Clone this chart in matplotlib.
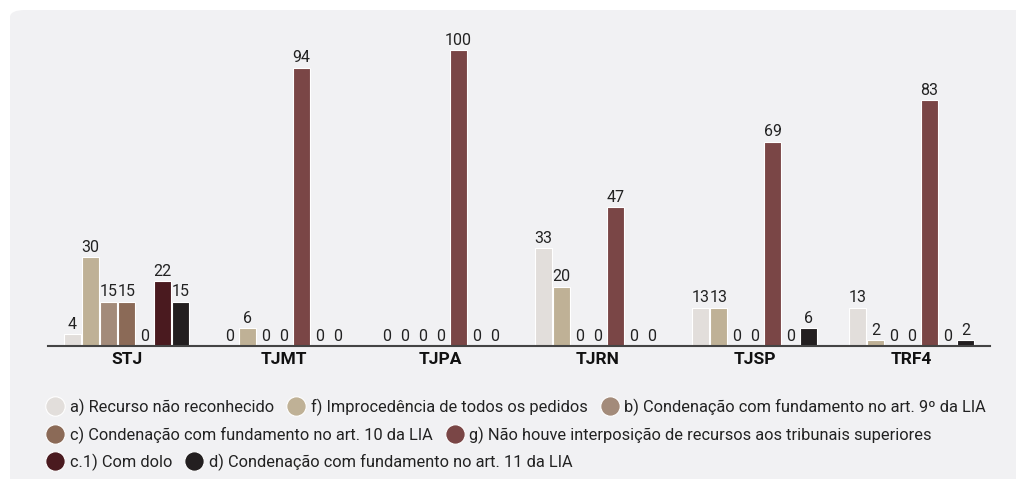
import matplotlib
matplotlib.use("Agg")
import matplotlib.pyplot as plt
from matplotlib.patches import FancyBboxPatch
from matplotlib.lines import Line2D
import numpy as np

categories = ["STJ", "TJMT", "TJPA", "TJRN", "TJSP", "TRF4"]
series_labels = [
    "a) Recurso não reconhecido",
    "f) Improcedência de todos os pedidos",
    "b) Condenação com fundamento no art. 9º da LIA",
    "c) Condenação com fundamento no art. 10 da LIA",
    "g) Não houve interposição de recursos aos tribunais superiores",
    "c.1) Com dolo",
    "d) Condenação com fundamento no art. 11 da LIA",
]
a_vals = [4, 0, 0, 33, 13, 13]
f_vals = [30, 6, 0, 20, 13, 2]
b_vals = [15, 0, 0, 0, 0, 0]
c_vals = [15, 0, 0, 0, 0, 0]
g_vals = [0, 94, 100, 47, 69, 83]
c1_vals = [22, 0, 0, 0, 0, 0]
d_vals = [15, 0, 0, 0, 6, 2]
series_values = [a_vals, f_vals, b_vals, c_vals, g_vals, c1_vals, d_vals]
colors = ["#e2dedb", "#bfb196", "#a38b7a", "#8b6a57", "#7a4646", "#4a1a1f", "#231f20"]

plt.rcParams['font.family'] = ['Roboto', 'DejaVu Sans']

W, H = 1016, 479
fig = plt.figure(figsize=(W / 100, H / 100), dpi=100)
fig.patch.set_facecolor("white")

panel = FancyBboxPatch((10 / W, -0.05), (W + 20) / W, (H - 10) / H + 0.05,
                       boxstyle="round,pad=0,rounding_size=0.015",
                       transform=fig.transFigure, facecolor="#f1f1f3",
                       edgecolor="none", zorder=-10)
fig.patches.append(panel)

ax_left, ax_right = 48 / W, 990 / W
ax_bottom = (H - 346) / H
ax_top = (H - 30) / H
ax = fig.add_axes([ax_left, ax_bottom, ax_right - ax_left, ax_top - ax_bottom])
ax.set_facecolor("none")

x = np.arange(len(categories))
step = 0.1146
width = 0.104
n = len(series_values)
for i, (vals, col) in enumerate(zip(series_values, colors)):
    pos = x + (i - (n - 1) / 2) * step
    ax.bar(pos, vals, width=width, color=col, edgecolor="white", linewidth=0.8, zorder=2)
    for px, v in zip(pos, vals):
        ax.text(px, v + 0.8, str(v), ha="center", va="bottom", fontsize=11.5,
                color="#222222")

ax.set_xlim(-0.5, len(categories) - 0.5)
ax.set_ylim(0, 316 / 2.96)
for s in ["top", "right", "left"]:
    ax.spines[s].set_visible(False)
ax.spines["bottom"].set_color("#444444")
ax.spines["bottom"].set_linewidth(1.5)
ax.set_yticks([])
ax.set_xticks(x)
ax.set_xticklabels(categories, fontsize=12.5, fontweight="bold", color="#111111")
ax.tick_params(axis="x", length=0, pad=4)

rows = [[0, 1, 2], [3, 4], [5, 6]]
row_y = [407, 435, 462]
for r, yy in zip(rows, row_y):
    handles = [Line2D([], [], marker="o", linestyle="none", markersize=14,
                      markerfacecolor=colors[k], markeredgecolor="white",
                      markeredgewidth=0.8) for k in r]
    leg = fig.legend(handles, [series_labels[k] for k in r], loc="center left",
                     bbox_to_anchor=(46 / W, 1 - yy / H), ncol=len(r),
                     frameon=False, fontsize=11.8, handletextpad=0.35,
                     columnspacing=0.8, handlelength=1.1, borderpad=0,
                     borderaxespad=0)
    for t in leg.get_texts():
        t.set_color("#222222")

fig.savefig("out.png", dpi=100)
